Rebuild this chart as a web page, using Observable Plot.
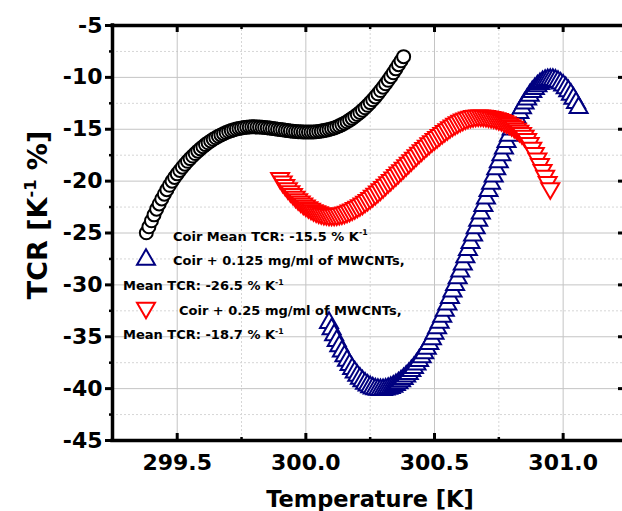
<!DOCTYPE html>
<html><head><meta charset="utf-8">
<script src="https://cdn.jsdelivr.net/npm/d3@7"></script>
<script src="https://cdn.jsdelivr.net/npm/@observablehq/plot@0.6"></script>
<style>body{margin:0;background:#fff} #chart{width:622px;height:511px}</style>
</head><body><div id="chart"></div>
<script>
// ---- data ----
const xDomain = [299.2485, 301.2307];
const yDomain = [-45, -5];
const xTicks = [299.5, 300.0, 300.5, 301.0];
const xMinor = [299.75, 300.25, 300.75];
const yTicks = [-45, -40, -35, -30, -25, -20, -15, -10, -5];
const yMinor = [-42.5, -37.5, -32.5, -27.5, -22.5, -17.5, -12.5, -7.5];

const coirT = [299.38,299.39,299.40,299.41,299.42,299.43,299.44,299.45,299.46,299.47,299.48,299.49,299.50,299.51,299.52,299.53,299.54,299.55,299.56,299.57,299.58,299.59,299.60,299.61,299.62,299.63,299.64,299.65,299.66,299.67,299.68,299.69,299.70,299.71,299.72,299.73,299.74,299.75,299.76,299.77,299.78,299.79,299.80,299.81,299.82,299.83,299.84,299.85,299.86,299.87,299.88,299.89,299.90,299.91,299.92,299.93,299.94,299.95,299.96,299.97,299.98,299.99,300.00,300.01,300.02,300.03,300.04,300.05,300.06,300.07,300.08,300.09,300.10,300.11,300.12,300.13,300.14,300.15,300.16,300.17,300.18,300.19,300.20,300.21,300.22,300.23,300.24,300.25,300.26,300.27,300.28,300.29,300.30,300.31,300.32,300.33,300.34,300.35,300.36,300.37,300.38];
const coirTCR = [-24.98,-24.40,-23.82,-23.25,-22.70,-22.20,-21.72,-21.26,-20.82,-20.40,-20.00,-19.64,-19.30,-18.97,-18.66,-18.37,-18.09,-17.83,-17.58,-17.34,-17.11,-16.89,-16.68,-16.48,-16.30,-16.13,-15.97,-15.82,-15.68,-15.55,-15.43,-15.32,-15.22,-15.13,-15.05,-14.98,-14.92,-14.87,-14.83,-14.80,-14.78,-14.77,-14.77,-14.78,-14.79,-14.81,-14.83,-14.86,-14.89,-14.92,-14.95,-14.99,-15.03,-15.06,-15.10,-15.13,-15.16,-15.19,-15.21,-15.23,-15.25,-15.26,-15.27,-15.27,-15.27,-15.26,-15.24,-15.21,-15.18,-15.13,-15.08,-15.02,-14.95,-14.87,-14.78,-14.67,-14.55,-14.42,-14.28,-14.12,-13.95,-13.77,-13.58,-13.38,-13.16,-12.93,-12.69,-12.43,-12.16,-11.88,-11.58,-11.27,-10.95,-10.62,-10.28,-9.93,-9.56,-9.18,-8.78,-8.40,-8.00];

const mw125T = [300.09,300.10,300.11,300.12,300.13,300.14,300.15,300.16,300.17,300.18,300.19,300.20,300.21,300.22,300.23,300.24,300.25,300.26,300.27,300.28,300.29,300.30,300.31,300.32,300.33,300.34,300.35,300.36,300.37,300.38,300.39,300.40,300.41,300.42,300.43,300.44,300.45,300.46,300.47,300.48,300.49,300.50,300.51,300.52,300.53,300.54,300.55,300.56,300.57,300.58,300.59,300.60,300.61,300.62,300.63,300.64,300.65,300.66,300.67,300.68,300.69,300.70,300.71,300.72,300.73,300.74,300.75,300.76,300.77,300.78,300.79,300.80,300.81,300.82,300.83,300.84,300.85,300.86,300.87,300.88,300.89,300.90,300.91,300.92,300.93,300.94,300.95,300.96,300.97,300.98,300.99,301.00,301.01,301.02,301.03,301.04,301.05,301.06];
const mw125TCR = [-33.40,-34.01,-34.58,-35.13,-35.65,-36.15,-36.61,-37.05,-37.45,-37.83,-38.17,-38.49,-38.77,-39.03,-39.25,-39.43,-39.59,-39.71,-39.80,-39.85,-39.87,-39.86,-39.82,-39.75,-39.66,-39.54,-39.39,-39.22,-39.03,-38.81,-38.57,-38.32,-38.04,-37.74,-37.41,-37.06,-36.70,-36.31,-35.88,-35.43,-34.96,-34.45,-33.92,-33.37,-32.81,-32.23,-31.63,-30.99,-30.37,-29.74,-29.09,-28.43,-27.76,-27.07,-26.38,-25.69,-24.98,-24.27,-23.56,-22.84,-22.12,-21.41,-20.69,-19.99,-19.29,-18.59,-17.91,-17.24,-16.59,-15.96,-15.35,-14.76,-14.20,-13.66,-13.16,-12.70,-12.26,-11.86,-11.49,-11.15,-10.85,-10.59,-10.37,-10.19,-10.07,-9.99,-9.96,-9.98,-10.05,-10.16,-10.32,-10.52,-10.77,-11.06,-11.40,-11.78,-12.21,-12.68];

const mw25T = [299.90,299.91,299.92,299.93,299.94,299.95,299.96,299.97,299.98,299.99,300.00,300.01,300.02,300.03,300.04,300.05,300.06,300.07,300.08,300.09,300.10,300.11,300.12,300.13,300.14,300.15,300.16,300.17,300.18,300.19,300.20,300.21,300.22,300.23,300.24,300.25,300.26,300.27,300.28,300.29,300.30,300.31,300.32,300.33,300.34,300.35,300.36,300.37,300.38,300.39,300.40,300.41,300.42,300.43,300.44,300.45,300.46,300.47,300.48,300.49,300.50,300.51,300.52,300.53,300.54,300.55,300.56,300.57,300.58,300.59,300.60,300.61,300.62,300.63,300.64,300.65,300.66,300.67,300.68,300.69,300.70,300.71,300.72,300.73,300.74,300.75,300.76,300.77,300.78,300.79,300.80,300.81,300.82,300.83,300.84,300.85,300.86,300.87,300.88,300.89,300.90,300.91,300.92,300.93,300.94,300.95];
const mw25TCR = [-19.96,-20.31,-20.64,-20.95,-21.24,-21.51,-21.77,-22.01,-22.23,-22.43,-22.62,-22.78,-22.93,-23.07,-23.18,-23.28,-23.36,-23.42,-23.46,-23.49,-23.50,-23.49,-23.47,-23.43,-23.37,-23.30,-23.21,-23.11,-23.00,-22.87,-22.74,-22.59,-22.43,-22.26,-22.08,-21.89,-21.69,-21.49,-21.28,-21.06,-20.84,-20.61,-20.38,-20.15,-19.92,-19.69,-19.45,-19.21,-18.97,-18.73,-18.49,-18.25,-18.01,-17.77,-17.53,-17.30,-17.07,-16.85,-16.63,-16.42,-16.22,-16.02,-15.82,-15.63,-15.44,-15.26,-15.08,-14.91,-14.75,-14.60,-14.46,-14.34,-14.23,-14.14,-14.06,-14.00,-13.96,-13.94,-13.94,-13.96,-13.99,-14.03,-14.08,-14.14,-14.21,-14.29,-14.38,-14.48,-14.60,-14.73,-14.88,-15.04,-15.22,-15.42,-15.64,-15.90,-16.22,-16.60,-17.05,-17.55,-18.08,-18.63,-19.19,-19.76,-20.35,-20.95];

const legendLines = [
  "Coir Mean TCR: -15.5 % K",
  "Coir + 0.125 mg/ml of MWCNTs,",
  "Mean TCR: -26.5 % K",
  "Coir + 0.25 mg/ml of MWCNTs,",
  "Mean TCR: -18.7 % K"
];

// ---- build ----
const toRows = (T, V) => T.map((t, i) => ({T: t, TCR: V[i]}));
const coir = toRows(coirT, coirTCR);
const mw125 = toRows(mw125T, mw125TCR);
const mw25 = toRows(mw25T, mw25TCR);

const triUp = {draw(ctx, size){ const r = Math.sqrt(size/Math.PI), h = r*Math.sqrt(3)/2; ctx.moveTo(0,-h); ctx.lineTo(r,h); ctx.lineTo(-r,h); ctx.closePath(); }};
const triDown = {draw(ctx, size){ const r = Math.sqrt(size/Math.PI), h = r*Math.sqrt(3)/2; ctx.moveTo(0,h); ctx.lineTo(r,-h); ctx.lineTo(-r,-h); ctx.closePath(); }};

const NAVY = "#000080", RED = "#ff0000";
const blank = () => "";

const chart = Plot.plot({
  width: 622, height: 511,
  marginLeft: 112, marginRight: 0, marginTop: 25, marginBottom: 71,
  x: {domain: xDomain},
  y: {domain: yDomain},
  style: {fontFamily: "'DejaVu Sans', sans-serif", fontWeight: "bold", background: "#fff", overflow: "visible", color: "#000"},
  marks: [
    Plot.gridX(xMinor, {stroke: "#d6d6d6", strokeOpacity: 1, strokeDasharray: "2,2"}),
    Plot.gridY(yMinor, {stroke: "#d6d6d6", strokeOpacity: 1, strokeDasharray: "2,2"}),
    Plot.gridX(xTicks, {stroke: "#c4c4c4", strokeOpacity: 1}),
    Plot.gridY(yTicks, {stroke: "#c4c4c4", strokeOpacity: 1}),
    Plot.dot(coir, {x: "T", y: "TCR", symbol: "circle", r: 6.5, stroke: "#000", fill: "#fff", strokeWidth: 2}),
    Plot.dot(mw125, {x: "T", y: "TCR", symbol: triUp, r: 9, stroke: NAVY, fill: "#fff", strokeWidth: 2}),
    Plot.dot(mw25, {x: "T", y: "TCR", symbol: triDown, r: 9, stroke: RED, fill: "#fff", strokeWidth: 2}),
    Plot.axisY(yTicks, {anchor: "left", tickSize: 7, tickPadding: 3, strokeWidth: 3, fontSize: 22, tickFormat: d => String(d), label: null}),
    Plot.axisY(yMinor, {anchor: "left", tickSize: 3, strokeWidth: 2.5, tickFormat: blank, label: null}),
    Plot.axisY(yTicks, {anchor: "right", tickSize: -5, strokeWidth: 3, tickFormat: blank, label: null}),
    Plot.axisX(xTicks, {anchor: "bottom", tickSize: -7, tickPadding: 21, strokeWidth: 3, fontSize: 22, tickFormat: d => d.toFixed(1), label: null}),
    Plot.axisX(xMinor, {anchor: "bottom", tickSize: -3, strokeWidth: 2.5, tickFormat: blank, label: null}),
    Plot.axisX(xTicks, {anchor: "top", tickSize: -6, strokeWidth: 3, tickFormat: blank, label: null}),
    Plot.axisX(xMinor, {anchor: "top", tickSize: -3, strokeWidth: 2.5, tickFormat: blank, label: null}),
    Plot.ruleX([xDomain[0]], {stroke: "#000", strokeWidth: 3.5, strokeLinecap: "square"}),
    Plot.ruleY(yDomain, {stroke: "#000", strokeWidth: 3.5, strokeLinecap: "square"})
  ]
});
document.getElementById("chart").appendChild(chart);

// ---- titles and legend (text) ----
const svg = d3.select(chart);
const F = "'DejaVu Sans', sans-serif";
function supText(x, y, size, main, sup, tail, anchor) {
  const t = svg.append("text").attr("x", x).attr("y", y).attr("font-family", F).attr("font-weight", "bold")
    .attr("font-size", size).attr("text-anchor", anchor || "start").attr("fill", "#000");
  t.append("tspan").text(main);
  if (sup) {
    t.append("tspan").attr("font-size", size * 0.6).attr("dy", -size * 0.4).text(sup);
    if (tail) t.append("tspan").attr("font-size", size).attr("dy", size * 0.4).text(tail);
  }
  return t;
}
supText(370, 507, 22.5, "Temperature [K]", null, null, "middle");
supText(0, 0, 27, "TCR [K", "-1", " %]", "middle").attr("transform", "translate(47,215) rotate(-90)");

const legendSym = (sym, cx, cy, color) => svg.append("path")
  .attr("d", d3.symbol(sym, 81 * Math.PI)()).attr("transform", `translate(${cx},${cy})`)
  .attr("fill", "#fff").attr("stroke", color).attr("stroke-width", 2);
legendSym(triUp, 146, 257, NAVY);
legendSym(triDown, 146, 310.5, RED);
supText(173, 240.5, 13, legendLines[0], "-1");
supText(173, 265, 13, legendLines[1]);
supText(123, 290, 13, legendLines[2], "-1");
supText(179, 315, 13, legendLines[3]);
supText(123, 339, 13, legendLines[4], "-1");
</script></body></html>
